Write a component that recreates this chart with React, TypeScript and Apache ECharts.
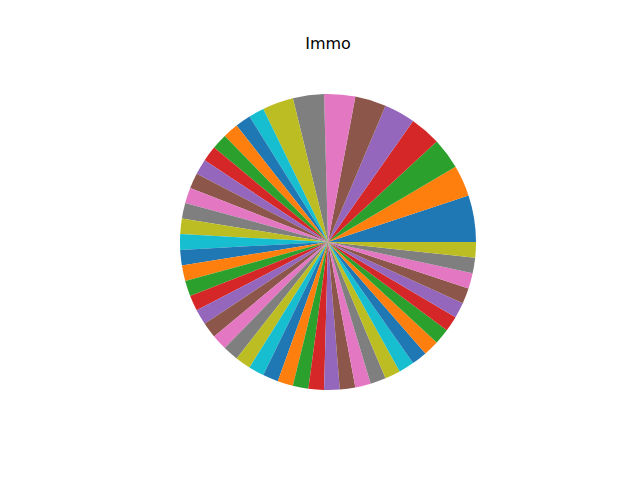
import React, { useEffect, useRef } from "react";
import * as echarts from "echarts";

const title = "Immo";
const categories: string[] = Array.from({ length: 49 }, (_, i) => `Item ${i + 1}`);
const values: number[] = [
  3, 2, 2, 2, 2, 2, 2, 2, 2,
  1, 1, 1, 1, 1, 1, 1, 1, 1, 1,
  1, 1, 1, 1, 1, 1, 1, 1, 1, 1,
  1, 1, 1, 1, 1, 1, 1, 1, 1, 1,
  1, 1, 1, 1, 1, 1, 1, 1, 1, 1,
];
const palette = [
  "#1f77b4", "#ff7f0e", "#2ca02c", "#d62728", "#9467bd",
  "#8c564b", "#e377c2", "#7f7f7f", "#bcbd22", "#17becf",
];

export default function App() {
  const ref = useRef<HTMLDivElement>(null);
  useEffect(() => {
    if (!ref.current) return;
    const chart = echarts.init(ref.current, null, { renderer: "svg" });
    chart.setOption({
      animation: false,
      backgroundColor: "#ffffff",
      color: palette,
      graphic: [
        {
          type: "text",
          x: 328,
          y: 43,
          style: {
            text: title,
            align: "center",
            verticalAlign: "middle",
            fontFamily: "DejaVu Sans",
            fontSize: 16,
            fill: "#000000",
          },
        },
      ],
      series: [
        {
          type: "pie",
          center: [328, 242],
          radius: [0, 148],
          startAngle: 0,
          clockwise: false,
          minAngle: 0,
          silent: true,
          label: { show: false },
          labelLine: { show: false },
          itemStyle: { borderWidth: 0 },
          emphasis: { disabled: true },
          data: categories.map((name, i) => ({ name, value: values[i] })),
        },
      ],
    });
    return () => chart.dispose();
  }, []);
  return (
    <div
      ref={ref}
      style={{ position: "fixed", left: 0, top: 0, width: 640, height: 480 }}
    />
  );
}
